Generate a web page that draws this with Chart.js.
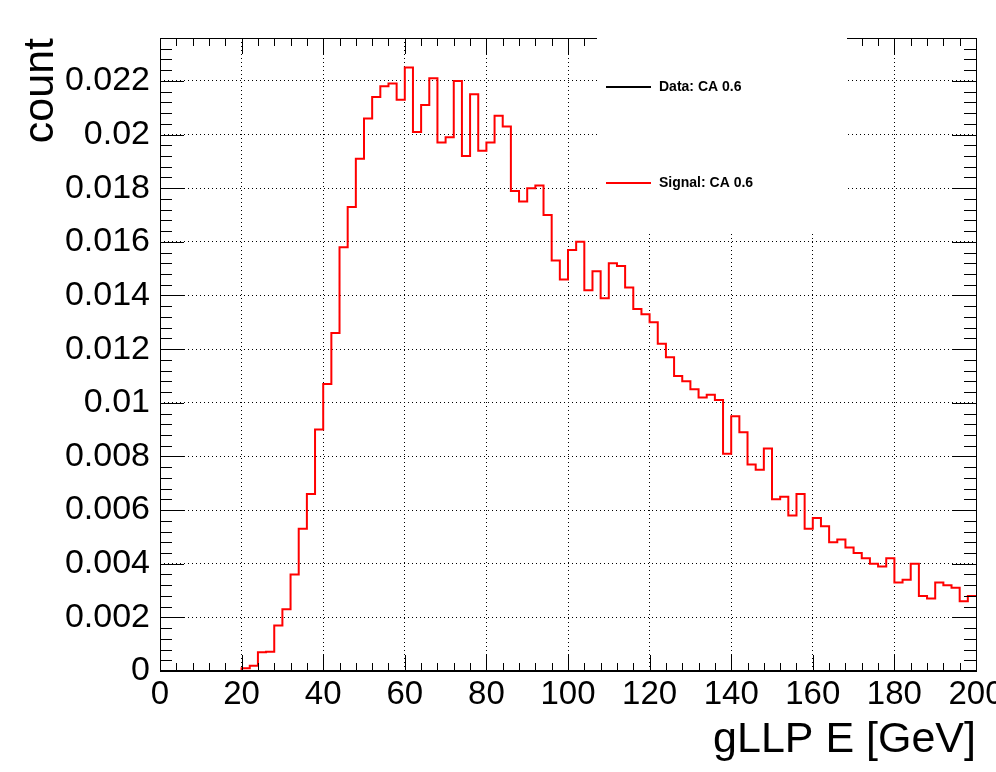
<!DOCTYPE html>
<html>
<head>
<meta charset="utf-8">
<script src="https://cdn.jsdelivr.net/npm/chart.js@4.4.1/dist/chart.umd.min.js"></script>
<style>
  html, body { margin: 0; padding: 0; background: #fff; }
  #wrap { width: 996px; height: 772px; }
</style>
</head>
<body>
<div id="wrap"><canvas id="histo" width="996" height="772"></canvas></div>
<script>
// Histogram of gLLP energy, 2 GeV bins from 0 to 200
const binWidth = 2;
const xTicks = [0, 20, 40, 60, 80, 100, 120, 140, 160, 180, 200];
const yTicks = [0, 0.002, 0.004, 0.006, 0.008, 0.01, 0.012, 0.014, 0.016, 0.018, 0.02, 0.022];
const legendLabels = ['Data: CA 0.6', 'Signal: CA 0.6'];
const signalCounts = [
    0, 0, 0, 0, 0, 0, 0, 0, 0, 0,
    0.0001, 0.0002, 0.0007, 0.00072, 0.0017, 0.0023, 0.0036, 0.0053, 0.0066, 0.0090,
    0.0107, 0.0126, 0.0158, 0.0173, 0.0191, 0.0206, 0.0214, 0.0218, 0.0219, 0.0213,
    0.0225, 0.0201, 0.0211, 0.0221, 0.0197, 0.0199, 0.0220, 0.0192, 0.0215, 0.0194,
    0.0197, 0.0207, 0.0203, 0.0179, 0.0175, 0.0180, 0.0181, 0.0170, 0.0153, 0.0146,
    0.0157, 0.0160, 0.0142, 0.0149, 0.0139, 0.0152, 0.0151, 0.0143, 0.0135, 0.0133,
    0.0130, 0.0122, 0.0117, 0.0110, 0.0108, 0.0105, 0.0102, 0.0103, 0.0101, 0.0081,
    0.0095, 0.0089, 0.0077, 0.0075, 0.0083, 0.0064, 0.0065, 0.0058, 0.0066, 0.0053,
    0.0057, 0.0054, 0.0048, 0.0049, 0.0046, 0.0044, 0.0042, 0.0040, 0.0039, 0.0042,
    0.0033, 0.0034, 0.0040, 0.0028, 0.0027, 0.0033, 0.0032, 0.0031, 0.0026, 0.0028
];

// each bin becomes a flat segment from its low edge to its high edge
const points = [];
signalCounts.forEach((v, i) => {
    points.push({ x: i * binWidth, y: v });
    points.push({ x: (i + 1) * binWidth, y: v });
});

const FONT = '"Liberation Sans", Arial, sans-serif';

// ROOT style frame, inward ticks, legend box and axis titles
const rootFrame = {
    id: 'rootFrame',
    afterDraw(chart) {
        const { ctx, chartArea: a, scales: { x, y } } = chart;
        ctx.save();
        ctx.strokeStyle = '#000';
        ctx.lineWidth = 1;
        ctx.strokeRect(a.left + 0.5, a.top + 0.5, a.right - a.left, a.bottom - a.top);
        ctx.beginPath();
        for (let v = 0; v <= 200; v += 4) {
            const px = Math.round(x.getPixelForValue(v)) + 0.5;
            const len = v % 20 === 0 ? 16 : 8;
            ctx.moveTo(px, a.bottom); ctx.lineTo(px, a.bottom - len);
            ctx.moveTo(px, a.top); ctx.lineTo(px, a.top + len);
        }
        for (let k = 0; k <= 58; k++) {
            const v = k * 0.0004;
            const py = Math.round(y.getPixelForValue(v)) + 0.5;
            if (py < a.top) break;
            const len = k % 5 === 0 ? 24 : 12;
            ctx.moveTo(a.left, py); ctx.lineTo(a.left + len, py);
            ctx.moveTo(a.right, py); ctx.lineTo(a.right - len, py);
        }
        ctx.stroke();
        ctx.lineWidth = 2;
        ctx.beginPath();
        ctx.moveTo(a.left, a.bottom); ctx.lineTo(a.right, a.bottom);
        ctx.stroke();

        // legend box (no border, white fill)
        ctx.fillStyle = '#fff';
        ctx.fillRect(597, 36, 250, 196);
        ctx.lineWidth = 2;
        const colors = ['#000', '#ff0000'];
        const rows = [87, 183];
        ctx.font = 'bold 14px ' + FONT;
        ctx.textBaseline = 'middle';
        legendLabels.forEach((lbl, i) => {
            ctx.strokeStyle = colors[i];
            ctx.beginPath();
            ctx.moveTo(606, rows[i]); ctx.lineTo(651, rows[i]);
            ctx.stroke();
            ctx.fillStyle = '#000';
            ctx.fillText(lbl, 659, rows[i]);
        });

        // axis titles
        ctx.fillStyle = '#000';
        ctx.font = '43px ' + FONT;
        ctx.textAlign = 'right';
        ctx.textBaseline = 'alphabetic';
        ctx.fillText('gLLP E [GeV]', 976, 752);
        ctx.save();
        ctx.translate(53, 38);
        ctx.rotate(-Math.PI / 2);
        ctx.fillText('count', 0, 0);
        ctx.restore();
        ctx.restore();
    }
};

new Chart(document.getElementById('histo'), {
    type: 'line',
    data: {
        datasets: [{
            label: legendLabels[1],
            data: points,
            borderColor: '#ff0000',
            borderWidth: 2,
            pointRadius: 0,
            fill: false
        }]
    },
    options: {
        responsive: false,
        animation: false,
        layout: { padding: { top: 38, right: 20, left: 0, bottom: 0 } },
        plugins: { legend: { display: false }, tooltip: { enabled: false } },
        scales: {
            x: {
                type: 'linear',
                min: 0, max: 200,
                afterFit(s) { s.height = 101; s.paddingLeft = 0; s.paddingRight = 0; },
                afterBuildTicks(s) { s.ticks = xTicks.map(v => ({ value: v })); },
                grid: { color: '#000', drawTicks: false },
                border: { display: false, dash: [1, 3] },
                ticks: { color: '#000', padding: 4, maxRotation: 0, autoSkip: false,
                         font: { family: FONT, size: 33 } }
            },
            y: {
                type: 'linear',
                min: 0, max: 0.0236,
                afterFit(s) { s.width = 160; s.paddingTop = 0; s.paddingBottom = 0; },
                afterBuildTicks(s) { s.ticks = yTicks.map(v => ({ value: v })); },
                grid: { color: '#000', drawTicks: false },
                border: { display: false, dash: [1, 3] },
                ticks: { color: '#000', padding: 10, autoSkip: false,
                         font: { family: FONT, size: 34 },
                         callback: v => String(parseFloat(v.toFixed(4))) }
            }
        }
    },
    plugins: [rootFrame]
});
</script>
</body>
</html>
